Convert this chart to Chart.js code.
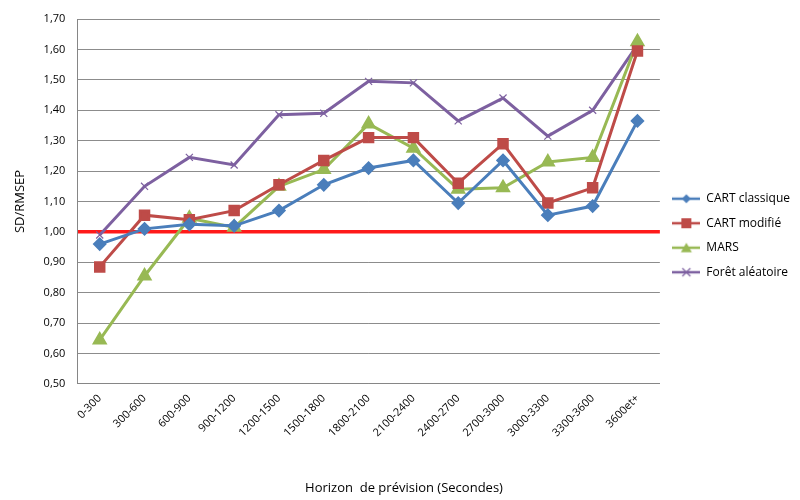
<!DOCTYPE html>
<html>
<head>
<meta charset="utf-8">
<script src="https://cdn.jsdelivr.net/npm/chart.js@4"></script>
<style>
  html, body { margin: 0; padding: 0; background: #fff; }
  #wrap { width: 800px; height: 500px; }
</style>
</head>
<body>
<div id="wrap"><canvas id="chart"></canvas></div>
<script>
// horizons (x categories)
const horizons = ['0-300', '300-600', '600-900', '900-1200', '1200-1500', '1500-1800',
    '1800-2100', '2100-2400', '2400-2700', '2700-3000', '3000-3300', '3300-3600', '3600et+'];

// SD/RMSEP per model
const cartClassique = [0.96, 1.01, 1.025, 1.02, 1.07, 1.155, 1.21, 1.235, 1.095, 1.235, 1.055, 1.085, 1.365];
const cartModifie = [0.885, 1.055, 1.04, 1.07, 1.155, 1.235, 1.31, 1.31, 1.16, 1.29, 1.095, 1.145, 1.595];
const mars = [0.645, 0.855, 1.045, 1.015, 1.15, 1.205, 1.355, 1.275, 1.14, 1.145, 1.23, 1.245, 1.625];
const foret = [0.99, 1.15, 1.245, 1.22, 1.385, 1.39, 1.495, 1.49, 1.365, 1.44, 1.315, 1.40, 1.615];

const refLine = 1.00;

const FONT = "'Open Sans', sans-serif";

// legend icon : small line with the marker in the middle
function legendIcon(color, style) {
    const c = document.createElement('canvas');
    c.width = 28; c.height = 12;
    const g = c.getContext('2d');
    g.strokeStyle = color;
    g.fillStyle = color;
    g.lineWidth = 2.5;
    g.beginPath(); g.moveTo(0, 6); g.lineTo(28, 6); g.stroke();
    g.beginPath();
    if (style === 'diamond') {
        g.moveTo(14, 1.5); g.lineTo(18.5, 6); g.lineTo(14, 10.5); g.lineTo(9.5, 6);
        g.closePath(); g.fill();
    } else if (style === 'square') {
        g.fillRect(9, 1, 10, 10);
    } else if (style === 'triangle') {
        g.moveTo(14, 1); g.lineTo(19.5, 10.5); g.lineTo(8.5, 10.5);
        g.closePath(); g.fill();
    } else {
        g.lineWidth = 1.2;
        g.moveTo(10, 2); g.lineTo(18, 10); g.moveTo(18, 2); g.lineTo(10, 10); g.stroke();
    }
    return c;
}

const blue = '#4a7ebb', red = '#be4b48', green = '#98b954', purple = '#7d60a0';

new Chart(document.getElementById('chart'), {
    type: 'line',
    data: {
        labels: horizons,
        datasets: [
            {
                label: 'CART classique',
                data: cartClassique,
                borderColor: blue, backgroundColor: blue,
                borderWidth: 3,
                pointStyle: 'rectRot', pointRadius: 5,
                legendIcon: legendIcon(blue, 'diamond')
            },
            {
                label: 'CART modifié',
                data: cartModifie,
                borderColor: red, backgroundColor: red,
                borderWidth: 3,
                pointStyle: 'rect', pointRadius: 6,
                legendIcon: legendIcon(red, 'square')
            },
            {
                label: 'MARS',
                data: mars,
                borderColor: green, backgroundColor: green,
                borderWidth: 3,
                pointStyle: 'triangle', pointRadius: 6,
                legendIcon: legendIcon(green, 'triangle')
            },
            {
                label: 'Forêt aléatoire',
                data: foret,
                borderColor: purple, backgroundColor: purple,
                borderWidth: 3,
                pointStyle: 'crossRot', pointRadius: 5, pointBorderWidth: 1.2,
                legendIcon: legendIcon(purple, 'cross')
            }
        ]
    },
    options: {
        responsive: true,
        maintainAspectRatio: false,
        animation: false,
        layout: { padding: { left: 8, right: 0, top: 19, bottom: 0 } },
        plugins: {
            legend: {
                position: 'right',
                align: 'start',
                title: {
                    display: true,
                    text: ' ',
                    font: { size: 1 },
                    padding: { top: 160, bottom: 0 }
                },
                labels: {
                    usePointStyle: true,
                    pointStyleWidth: 28,
                    color: '#000',
                    font: { family: FONT, size: 12 },
                    padding: 12.5,
                    generateLabels: function (chart) {
                        return chart.data.datasets.map(function (ds, i) {
                            return {
                                text: ds.label,
                                pointStyle: ds.legendIcon,
                                fillStyle: ds.borderColor,
                                strokeStyle: ds.borderColor,
                                lineWidth: 0,
                                datasetIndex: i,
                                fontColor: '#000'
                            };
                        });
                    }
                }
            },
            title: {
                display: true,
                position: 'bottom',
                text: 'Horizon  de prévision (Secondes)',
                color: '#000',
                font: { family: FONT, size: 13, weight: 'normal' },
                padding: { top: 33, bottom: 4 }
            },
            tooltip: { enabled: false }
        },
        scales: {
            x: {
                offset: true,
                grid: { display: false, drawTicks: false },
                border: { color: '#868686' },
                ticks: {
                    color: '#000',
                    font: { family: FONT, size: 11 },
                    minRotation: 45,
                    maxRotation: 45,
                    padding: 8
                }
            },
            y: {
                min: 0.5,
                max: 1.7,
                border: { color: '#868686' },
                grid: {
                    drawTicks: false,
                    color: function (ctx) {
                        return Math.abs(ctx.tick.value - refLine) < 1e-6 ? '#ff1a1a' : '#8c8c8c';
                    },
                    lineWidth: function (ctx) {
                        return Math.abs(ctx.tick.value - refLine) < 1e-6 ? 3.5 : 1;
                    }
                },
                ticks: {
                    stepSize: 0.1,
                    color: '#000',
                    padding: 12,
                    font: { family: FONT, size: 11 },
                    callback: function (v) { return v.toFixed(2).replace('.', ','); }
                },
                title: {
                    display: true,
                    text: 'SD/RMSEP',
                    color: '#000',
                    font: { family: FONT, size: 13 },
                    padding: { bottom: 4 }
                }
            }
        }
    }
});
</script>
</body>
</html>
